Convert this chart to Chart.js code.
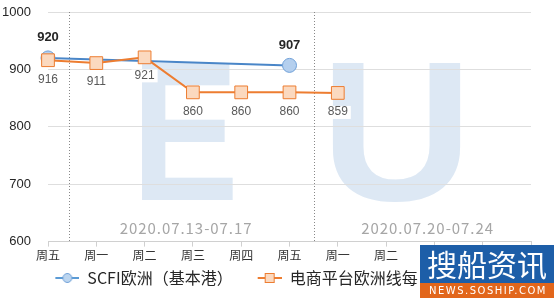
<!DOCTYPE html>
<html>
<head>
<meta charset="utf-8">
<script src="https://cdn.jsdelivr.net/npm/chart.js@4/dist/chart.umd.min.js"></script>
<style>
  html, body { margin: 0; padding: 0; background: #fff; }
  #wrap { width: 554px; height: 298px; }
</style>
</head>
<body>
<div id="wrap"><canvas id="chart" width="554" height="298"></canvas></div>
<script>
const days = ['周五', '周一', '周二', '周三', '周四', '周五', '周一', '周二', '周三', '周四', '周五'];
const scfiEurope = [920, null, null, null, null, 907, null, null, null, null, null];
const ecomEurope = [916, 911, 921, 860, 860, 860, 859, null, null, null, null];
const yTicks = [600, 700, 800, 900, 1000];
const weekLabels = ['2020.07.13-07.17', '2020.07.20-07.24'];
const seriesNames = ['SCFI欧洲（基本港）', '电商平台欧洲线每日运价指数'];

const CJK = '"Noto Sans CJK SC", "Noto Sans", sans-serif';

// legend marker: line with point, with some empty room on the left
function legendMarker(line, fill, stroke, square) {
  const c = document.createElement('canvas');
  c.width = 44; c.height = 14;
  const g = c.getContext('2d');
  g.strokeStyle = line; g.lineWidth = 2;
  g.beginPath(); g.moveTo(20, 7); g.lineTo(44, 7); g.stroke();
  g.fillStyle = fill; g.strokeStyle = stroke; g.lineWidth = 1;
  if (square) {
    g.fillRect(27.5, 2.5, 9, 9); g.strokeRect(27.5, 2.5, 9, 9);
  } else {
    g.beginPath(); g.arc(32, 7, 4.5, 0, Math.PI * 2); g.fill(); g.stroke();
  }
  return c;
}

const markers = [
  legendMarker('#5b9bd5', '#bcd5ef', '#6fa0d8', false),
  legendMarker('#ed7d31', '#fbd9bf', '#ed7d31', true)
];

// stretch a glyph into a box
function fitText(ctx, text, x0, y0, x1, y1) {
  ctx.save();
  ctx.font = 'bold 100px "Liberation Sans", Arial, sans-serif';
  ctx.textAlign = 'left';
  ctx.textBaseline = 'alphabetic';
  const m = ctx.measureText(text);
  const w = m.actualBoundingBoxLeft + m.actualBoundingBoxRight;
  const h = m.actualBoundingBoxAscent + m.actualBoundingBoxDescent;
  ctx.translate(x0, y0);
  ctx.scale((x1 - x0) / w, (y1 - y0) / h);
  ctx.fillText(text, m.actualBoundingBoxLeft, m.actualBoundingBoxAscent);
  ctx.restore();
}

const decorations = {
  id: 'decorations',
  beforeDraw(chart) {
    const { ctx } = chart;
    ctx.save();
    ctx.fillStyle = '#dde8f4';
    fitText(ctx, 'E', 141, 63, 233, 200);
    fitText(ctx, 'U', 333, 63, 462, 202);
    ctx.restore();
  },
  beforeDatasetsDraw(chart) {
    const { ctx, chartArea, scales } = chart;
    const x = scales.x;
    ctx.save();
    // week separators
    ctx.strokeStyle = '#888';
    ctx.lineWidth = 1;
    ctx.setLineDash([1, 2]);
    [0.43, 5.5].forEach(v => {
      const px = Math.round(x.getPixelForValue(v)) + 0.5;
      ctx.beginPath();
      ctx.moveTo(px, chartArea.top);
      ctx.lineTo(px, chartArea.bottom);
      ctx.stroke();
    });
    ctx.setLineDash([]);
    // week labels
    ctx.fillStyle = '#a6a6a6';
    ctx.font = '15px ' + CJK;
    ctx.textAlign = 'center';
    ctx.textBaseline = 'middle';
    [2.85, 7.85].forEach((v, i) => {
      ctx.fillText(weekLabels[i].split('').join(String.fromCharCode(8202)), x.getPixelForValue(v), chartArea.bottom - 13);
    });
    ctx.restore();
  },
  afterDatasetsDraw(chart) {
    const { ctx } = chart;
    ctx.save();
    ctx.textAlign = 'center';
    ctx.textBaseline = 'middle';
    // SCFI labels above
    const m0 = chart.getDatasetMeta(0);
    ctx.font = 'bold 13px "Liberation Sans", Arial, sans-serif';
    ctx.fillStyle = '#262626';
    m0.data.forEach((pt, i) => {
      if (scfiEurope[i] == null) return;
      ctx.fillText(String(scfiEurope[i]), pt.x, pt.y - 20);
    });
    // e-commerce labels below
    const m1 = chart.getDatasetMeta(1);
    ctx.font = '12px "Liberation Sans", Arial, sans-serif';
    m1.data.forEach((pt, i) => {
      if (ecomEurope[i] == null) return;
      const t = String(ecomEurope[i]);
      const w = ctx.measureText(t).width;
      const ly = pt.y + (i === 2 ? 18 : 19);
      ctx.fillStyle = '#fff';
      ctx.fillRect(pt.x - w / 2 - 3, ly - 6, w + 6, 13);
      ctx.fillStyle = '#595959';
      ctx.fillText(t, pt.x, ly);
    });
    ctx.restore();
  },
  afterDraw(chart) {
    const { ctx } = chart;
    ctx.save();
    // site badge
    ctx.fillStyle = '#1d5ea8';
    ctx.fillRect(420, 245, 134, 38);
    ctx.fillStyle = '#e2661b';
    ctx.fillRect(420, 283, 134, 15);
    ctx.fillStyle = '#fff';
    ctx.textAlign = 'center';
    ctx.textBaseline = 'middle';
    ctx.font = '30px ' + CJK;
    ctx.fillText('搜船资讯', 487, 265);
    ctx.font = '10px "DejaVu Sans", sans-serif';
    ctx.letterSpacing = '1.5px';
    ctx.fillText('NEWS.SOSHIP.COM', 488, 291);
    ctx.restore();
  }
};

new Chart(document.getElementById('chart'), {
  type: 'line',
  data: {
    labels: days,
    datasets: [
      {
        label: seriesNames[0],
        data: scfiEurope,
        spanGaps: true,
        borderColor: '#4a86c8',
        borderWidth: 2,
        pointStyle: 'circle',
        pointRadius: 7,
        pointBackgroundColor: '#b4cfee',
        pointBorderColor: '#6fa0d8',
        pointBorderWidth: 1,
        order: 2
      },
      {
        label: seriesNames[1],
        data: ecomEurope,
        borderColor: '#ed7d31',
        borderWidth: 2,
        pointStyle: 'rect',
        pointRadius: 9,
        pointBackgroundColor: '#fbd9bf',
        pointBorderColor: '#ed7d31',
        pointBorderWidth: 1,
        order: 1
      }
    ]
  },
  options: {
    responsive: false,
    animation: false,
    layout: { autoPadding: false, padding: { left: 2, right: 23, top: 12, bottom: 2 } },
    plugins: {
      tooltip: { enabled: false },
      legend: {
        position: 'bottom',
        labels: {
          usePointStyle: true,
          pointStyleWidth: 44,
          padding: 5,
          color: '#262626',
          font: { size: 16, family: CJK },
          generateLabels: chart => chart.data.datasets.map((ds, i) => ({
            text: ds.label,
            pointStyle: markers[i],
            fillStyle: 'transparent',
            strokeStyle: 'transparent',
            lineWidth: 0,
            fontColor: '#262626',
            datasetIndex: i
          }))
        }
      }
    },
    scales: {
      x: {
        offset: false,
        grid: { drawOnChartArea: false, drawTicks: true, tickLength: 5, color: '#d0d0d0' },
        border: { color: '#d0d0d0' },
        ticks: {
          color: '#333',
          font: { size: 12, family: CJK },
          padding: 2,
          maxRotation: 0,
          autoSkip: false
        }
      },
      y: {
        min: 600,
        max: 1000,
        afterBuildTicks: s => { s.ticks = yTicks.map(v => ({ value: v })); },
        afterFit: s => { s.width = 46; s.paddingTop = 8; s.paddingBottom = 8; },
        grid: { color: '#dedede', drawTicks: false },
        border: { display: false },
        ticks: {
          color: '#262626',
          font: { size: 13, family: '"Liberation Sans", Arial, sans-serif' },
          padding: 17,
          callback: v => String(v)
        }
      }
    }
  },
  plugins: [decorations]
});
</script>
</body>
</html>
